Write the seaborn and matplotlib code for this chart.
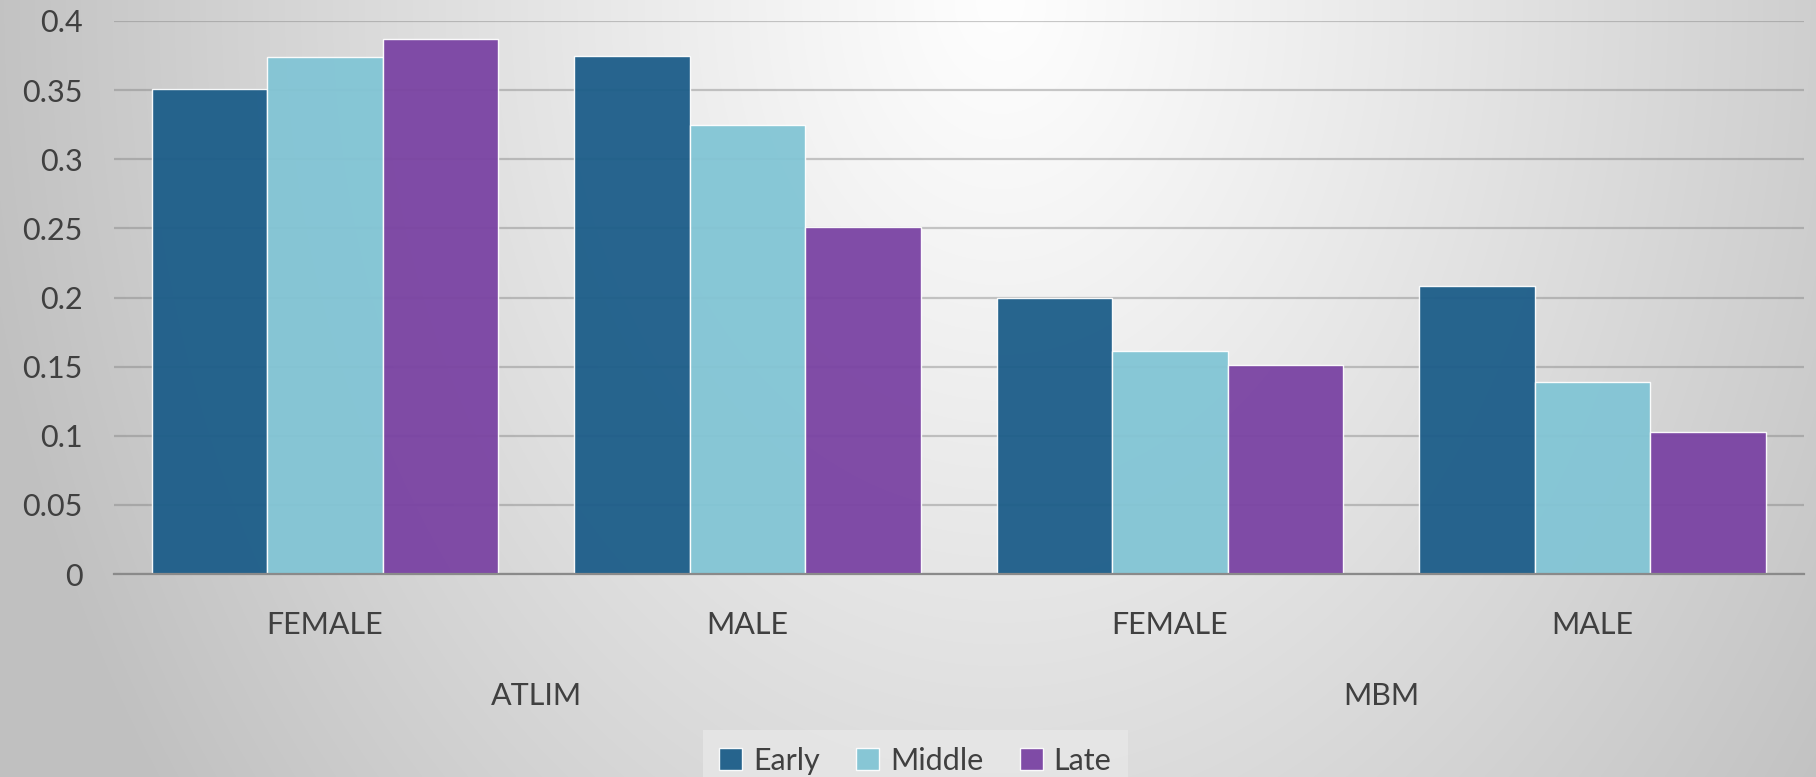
import numpy as np
import pandas as pd
import matplotlib
matplotlib.use("Agg")
import matplotlib.pyplot as plt
from matplotlib.transforms import blended_transform_factory
import seaborn as sns

# --- data -------------------------------------------------------------
groups = ["ATLIM", "ATLIM", "MBM", "MBM"]
sexes = ["FEMALE", "MALE", "FEMALE", "MALE"]
stages = ["Early", "Middle", "Late"]
early = [0.351, 0.375, 0.200, 0.208]
middle = [0.374, 0.325, 0.161, 0.139]
late = [0.387, 0.251, 0.151, 0.103]
y_ticks = [0, 0.05, 0.1, 0.15, 0.2, 0.25, 0.3, 0.35, 0.4]
y_tick_labels = ["0", "0.05", "0.1", "0.15", "0.2", "0.25", "0.3", "0.35", "0.4"]

palette = {"Early": "#1c5d89", "Middle": "#82c5d5", "Late": "#7a43a3"}
text_color = "#404040"
font_size = 22

keys = [f"{g}|{s}" for g, s in zip(groups, sexes)]
rows = []
for stage, vals in zip(stages, [early, middle, late]):
    for k, v in zip(keys, vals):
        rows.append({"slot": k, "stage": stage, "value": v})
df = pd.DataFrame(rows)

# --- figure -----------------------------------------------------------
sns.set_theme(style="white")
plt.rcParams["font.family"] = ["Lato", "DejaVu Sans"]

W, H = 1816, 777
fig = plt.figure(figsize=(W / 100, H / 100), dpi=100)

# soft radial backdrop, brightest near the top middle
bg = fig.add_axes([0, 0, 1, 1], zorder=-10)
yy, xx = np.mgrid[0:H, 0:W]
d = np.sqrt(((xx - 1000) / 950.0) ** 2 + (yy / 1250.0) ** 2)
shade = np.clip(254 - 56 * d ** 1.1, 192, 255) / 255.0
bg.imshow(np.dstack([shade] * 3), aspect="auto", extent=[0, 1, 0, 1],
          interpolation="bilinear")
bg.set_axis_off()

left, right = 113.5 / W, 1804 / W
bottom, top = 1 - 574 / H, 1 - 21 / H
ax = fig.add_axes([left, bottom, right - left, top - bottom])
ax.patch.set_alpha(0)

sns.barplot(data=df, x="slot", y="value", hue="stage", order=keys,
            hue_order=stages, palette=palette, width=0.82, saturation=1,
            alpha=0.95, edgecolor=(1, 1, 1, 0.6), linewidth=1.0,
            errorbar=None, ax=ax, legend=True)

ax.set_ylim(0, 0.4)
ax.set_xlim(-0.5, len(keys) - 0.5)
ax.set_yticks(y_ticks)
ax.set_yticklabels(y_tick_labels)
ax.set_xticks(range(len(keys)))
ax.set_xticklabels(sexes)
ax.set_xlabel("")
ax.set_ylabel("")

ax.grid(axis="y", color="#7a7a7a", alpha=0.4, linewidth=1.6)
ax.set_axisbelow(True)
for side in ["left", "right", "top"]:
    ax.spines[side].set_visible(False)
ax.spines["bottom"].set_color("#8a8a8a")
ax.spines["bottom"].set_linewidth(1.6)

ax.tick_params(axis="y", length=0, pad=22, labelsize=font_size,
               labelcolor=text_color)
ax.tick_params(axis="x", length=0, pad=27, labelsize=font_size,
               labelcolor=text_color)

# outer category labels, centred under each pair of bars
trans = blended_transform_factory(ax.transData, ax.transAxes)
for g in dict.fromkeys(groups):
    idx = [i for i, gg in enumerate(groups) if gg == g]
    ax.text(np.mean(idx), -122 / 553, g, transform=trans, ha="center",
            va="center", fontsize=font_size, color=text_color)

# legend along the bottom edge
handles, labels = ax.get_legend_handles_labels()
ax.get_legend().remove()
leg = fig.legend(handles, labels, loc="upper center",
                 bbox_to_anchor=(0.504, 1 - 730 / H), ncol=3, frameon=True,
                 fontsize=font_size, handlelength=0.75, handleheight=0.75,
                 handletextpad=0.35, columnspacing=1.2, borderpad=0.55,
                 borderaxespad=0, fancybox=False, labelcolor=text_color)
leg.get_frame().set_facecolor("#e6e6e6")
leg.get_frame().set_edgecolor("none")
leg.get_frame().set_alpha(0.9)

fig.savefig("out.png", dpi=100)
